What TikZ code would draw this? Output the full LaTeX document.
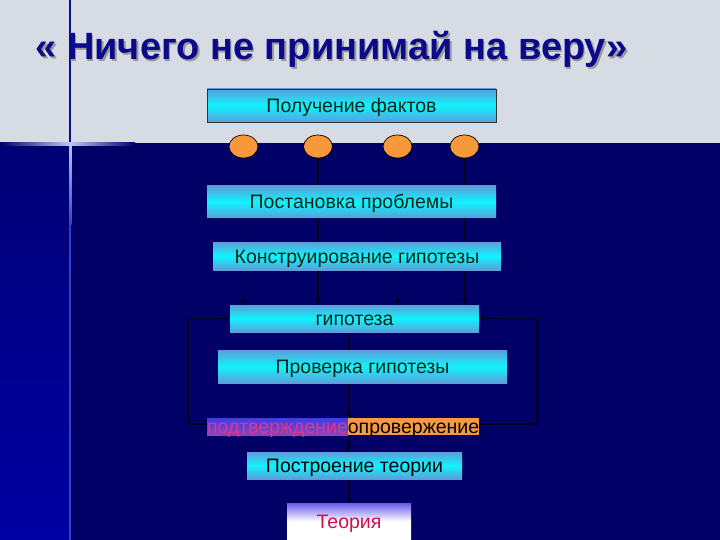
\documentclass[tikz,border=0pt]{standalone}
\usepackage{fontspec}
\setmainfont{Liberation Sans}
\usetikzlibrary{shapes.geometric,arrows.meta}
\definecolor{bggray}{HTML}{D7DBE3}
\definecolor{navybg}{HTML}{000066}
\definecolor{stripTop}{HTML}{000074}
\definecolor{stripBot}{HTML}{0000A4}
\definecolor{titlecol}{HTML}{0A0A8A}
\definecolor{glow}{HTML}{B8C8FF}
\definecolor{glowblue}{HTML}{2A44C8}
\definecolor{boxedge}{HTML}{5C9ED8}
\definecolor{boxmid}{HTML}{10F4FF}
\definecolor{boxtext}{HTML}{0C2414}
\definecolor{dotfill}{HTML}{F7983A}
\definecolor{linecol}{HTML}{00001E}
\definecolor{confirmtop}{HTML}{3C3CE8}
\definecolor{confirmbot}{HTML}{8A46B8}
\definecolor{confirmtext}{HTML}{E0348E}
\definecolor{refutebg}{HTML}{F59A3E}
\definecolor{theorytop}{HTML}{6A5AE6}
\definecolor{theorytext}{HTML}{D0104A}
\pgfdeclarelayer{bglayer}
\pgfdeclarelayer{linelayer}
\pgfsetlayers{bglayer,linelayer,main}
\begin{document}
\begin{tikzpicture}[x=1pt,y=-1pt,
  box/.style={draw=black!80, line width=0.6pt, top color=boxedge, bottom color=boxedge, middle color=boxmid,
    inner sep=0pt, text=boxtext, font=\fontsize{19.5}{19.5}\selectfont, text height=14pt, text depth=0pt},
  dot/.style={ellipse, draw=black, line width=0.7pt, fill=dotfill, minimum width=29pt, minimum height=23pt, inner sep=0pt},
  conn/.style={draw=linecol, line width=1.4pt},
  arr/.style={conn, -{Triangle[length=5pt,width=5pt]}},
  lbl/.style={inner sep=0pt, font=\fontsize{19.5}{19.5}\selectfont, text height=14pt, text depth=0pt}
]
\useasboundingbox (0,0) rectangle (720,540);
% ---------- background ----------
\begin{pgfonlayer}{bglayer}
  \fill[bggray] (0,0) rectangle (720,143);
  \fill[navybg] (0,143) rectangle (720,540);
  \shade[top color=stripTop, bottom color=stripBot] (0,143) rectangle (69,540);
  \draw[titlecol, line width=2pt] (70,0) -- (70,143);
  \shade[left color=navybg, right color=glow] (0,143) rectangle (70,146);
  \shade[left color=glow, right color=navybg] (70,143) rectangle (135,146);
  \shade[top color=glow, bottom color=glowblue] (69,144) rectangle (71.5,225);
  \draw[glowblue, line width=1.6pt] (70.2,225) -- (70.2,540);
\end{pgfonlayer}
% ---------- title ----------
\node[text=black!40, font=\fontsize{38}{38}\bfseries\selectfont, anchor=base west] at (33.5,61.5) {« Ничего не принимай на веру»};
\node (title) [text=titlecol, font=\fontsize{38}{38}\bfseries\selectfont, anchor=base west] at (32,60) {« Ничего не принимай на веру»};
% ---------- boxes ----------
\node (facts) [box, minimum width=289pt, minimum height=33pt] at (351.5,105.5) {Получение фактов};
\node (c1) [dot] at (243.5,146.5) {};
\node (c2) [dot] at (318,146.5) {};
\node (c3) [dot] at (397.5,146.5) {};
\node (c4) [dot] at (464.5,146.5) {};
\node (problem) [box, draw=none, minimum width=289pt, minimum height=32pt] at (351.5,202) {Постановка проблемы};
\node (construct) [box, draw=none, minimum width=288pt, minimum height=28pt] at (357,256) {Конструирование гипотезы};
\node (hyp) [box, draw=none, minimum width=249pt, minimum height=27pt] at (354.5,318.5) {гипотеза};
\node (check) [box, draw=none, minimum width=289pt, minimum height=33pt] at (362.5,366.5) {Проверка гипотезы};
\node (confirm) [lbl, top color=confirmtop, bottom color=confirmbot, text=confirmtext, minimum width=141pt, minimum height=17pt] at (277.5,426.5) {подтверждение};
\node (refute) [lbl, fill=refutebg, text=black, minimum width=131pt, minimum height=17pt] at (413.5,426.5) {опровержение};
\node (build) [box, draw=none, minimum width=215pt, minimum height=27pt, text=black] at (354.5,465.5) {Построение теории};
\node (theory) [lbl, top color=theorytop, bottom color=white, middle color=white, text=theorytext, minimum width=124pt, minimum height=37pt] at (349,521.5) {Теория};
% ---------- connectors ----------
\coordinate (lb) at (188,424);
\coordinate (rb) at (537,424);
\begin{pgfonlayer}{linelayer}
  \foreach \c in {c1,c2,c3,c4} {
    \draw[arr] (\c.south) -- (hyp.north -| \c.south);
  }
  \draw[arr] (confirm.west |- lb) -- (lb) |- (hyp.west);
  \draw[arr] (refute.east |- rb) -- (rb) |- (hyp.east);
  \draw[conn] (hyp.south -| confirm.east) -- (check.north -| confirm.east);
  \draw[arr] (check.south -| confirm.east) -- (confirm.north east);
  \draw[arr] (confirm.south east) -- (build.north -| confirm.east);
  \draw[arr] (build.south -| theory.north) -- (theory.north);
\end{pgfonlayer}
\end{tikzpicture}
\end{document}
